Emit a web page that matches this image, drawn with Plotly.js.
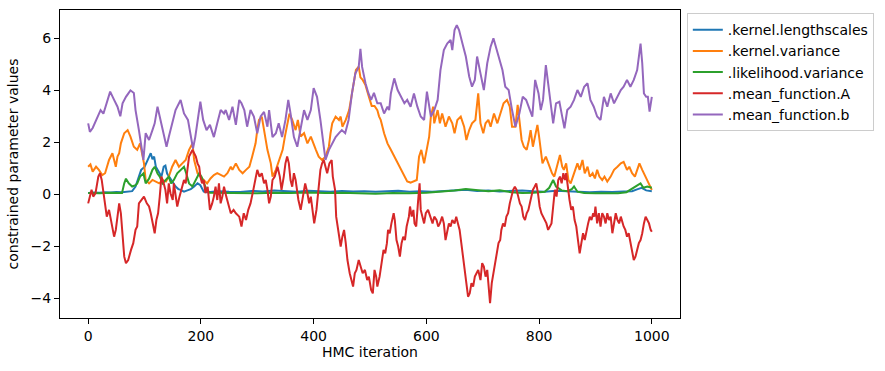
<!DOCTYPE html>
<html><head><meta charset="utf-8">
<script src="https://cdn.plot.ly/plotly-3.0.1.min.js"></script>
<style>html,body{margin:0;padding:0;background:#fff}#c{width:885px;height:371px}</style>
</head><body><div id="c"></div>
<script>
const seriesNames = [".kernel.lengthscales", ".kernel.variance", ".likelihood.variance", ".mean_function.A", ".mean_function.b"];
const seriesColors = ["#1f77b4", "#ff7f0e", "#2ca02c", "#d62728", "#9467bd"];
const xTicks = [0, 200, 400, 600, 800, 1000];
const yTicks = [-4, -2, 0, 2, 4, 6];

const lengthscalesIter = [0,10,20,30,40,50,60,70,78,84,90,94,100,105,111,114,117,120,126,130,134,137,140,143,149,155,160,164,170,176,182,188,194,199,205,212,230,250,270,290,310,330,350,370,390,410,430,450,470,490,510,530,550,570,590,610,630,650,670,690,710,730,750,770,790,810,830,850,870,890,910,930,950,965,975,982,990,1000];
const lengthscalesVal = [0.05,0.07,0.06,0.08,0.07,0.09,0.08,0.1,0.12,0.3,0.7,0.94,1.05,1.3,1.58,1.35,1.45,1.06,0.8,0.68,1.06,1.1,0.8,0.68,0.5,0.3,0.2,0.17,0.1,0.15,0.2,0.3,0.42,0.35,0.1,0.08,0.12,0.1,0.09,0.13,0.11,0.15,0.12,0.1,0.14,0.12,0.1,0.13,0.11,0.12,0.1,0.12,0.14,0.1,0.12,0.1,0.13,0.15,0.17,0.13,0.15,0.11,0.13,0.15,0.12,0.1,0.14,0.12,0.1,0.08,0.1,0.09,0.11,0.12,0.2,0.25,0.15,0.12];

const kernelVarIter = [0,4,8,14,19,25,30,34,37,43,46,49,52,55,58,64,70,75,81,87,92,96,99,102,108,114,120,126,132,138,143,149,155,161,167,173,179,182,185,188,194,199,205,211,217,223,229,235,241,247,253,256,262,268,274,280,286,291,297,300,303,308,312,315,318,324,327,333,339,345,349,353,357,362,368,372,377,383,389,395,399,404,409,415,421,427,430,433,439,445,448,451,457,463,467,471,475,480,483,487,492,498,503,508,513,516,519,525,531,537,543,549,555,561,566,572,578,583,587,591,596,601,605,608,612,614,620,624,628,634,640,646,650,655,661,667,671,676,681,687,692,696,701,705,710,714,720,726,732,737,743,748,752,758,762,766,769,773,778,782,785,789,793,797,800,803,806,812,818,823,827,830,834,837,841,844,848,852,856,862,868,872,877,881,886,890,895,899,903,907,912,916,921,927,933,939,945,950,956,960,965,970,974,978,983,989,994,998,1000];
const kernelVarVal = [1.06,1.15,0.87,1.06,0.94,0.74,0.81,1.06,1.32,1.58,1.32,1.06,1.45,1.58,1.96,2.35,2.47,2.22,1.83,1.71,1.96,1.58,1.19,0.55,0.42,0.55,0.49,0.42,0.55,0.49,0.68,1.06,1.32,1.06,1.19,1.32,1.71,1.83,1.96,1.32,0.81,0.68,0.55,0.42,0.61,0.74,0.81,0.74,0.68,0.81,1.06,0.94,1.19,0.94,0.81,0.94,1.06,1.45,1.96,2.47,2.86,2.99,2.47,2.22,1.71,1.19,0.68,0.94,1.32,1.71,2.22,2.6,3.1,2.86,2.47,2.86,2.22,2.35,1.96,2.22,1.96,1.71,1.45,1.32,1.45,1.83,2.35,2.73,2.99,2.86,2.99,2.6,2.86,3.24,3.75,4.27,4.78,4.91,4.5,4.4,4.2,3.75,3.4,3.4,3.24,3.0,2.86,2.35,1.96,1.71,1.45,1.19,0.94,0.68,0.49,0.45,0.5,0.55,1.45,1.71,1.19,1.83,2.22,2.99,3.37,2.73,3.24,2.73,3.11,2.6,2.99,2.73,2.35,2.86,2.99,2.6,2.09,2.47,2.73,2.86,3.88,2.73,2.35,2.73,2.86,2.6,3.11,2.73,3.11,3.5,3.63,3.37,2.6,2.6,3.44,2.73,2.09,1.83,1.71,2.09,2.47,1.83,2.22,2.67,2.22,1.58,1.19,1.45,1.06,0.81,0.68,0.94,1.19,1.51,1.06,0.94,1.19,0.55,0.42,0.81,1.19,0.94,1.32,0.81,1.06,0.68,0.81,0.61,0.94,0.68,0.55,0.68,0.49,0.68,0.94,1.06,1.19,1.25,0.94,1.06,0.81,0.68,0.94,1.19,0.94,0.68,0.42,0.29,0.17];

const likelihoodIter = [0,20,40,60,64,67,72,78,84,87,92,98,102,108,114,118,123,127,132,137,143,147,152,158,164,170,174,179,185,191,197,201,205,210,216,240,270,300,330,360,390,420,450,480,510,540,570,600,630,650,670,690,710,730,750,770,790,810,818,825,830,840,850,858,862,868,880,900,920,940,955,965,975,980,985,992,1000];
const likelihoodVal = [0.05,0.04,0.06,0.05,0.42,0.6,0.42,0.3,0.35,0.42,0.68,0.8,0.42,0.6,0.94,1.06,0.8,0.68,0.42,0.55,0.68,0.42,0.55,0.81,0.94,1.06,0.8,0.42,0.3,0.55,0.81,0.68,0.42,0.17,0.06,0.05,0.06,0.04,0.06,0.05,0.07,0.05,0.06,0.04,0.02,0.05,0.04,0.06,0.1,0.15,0.2,0.15,0.12,0.15,0.08,0.05,0.06,0.1,0.25,0.55,0.3,0.15,0.12,0.2,0.3,0.1,0.05,0.04,0.05,0.04,0.08,0.2,0.35,0.42,0.25,0.3,0.25];

const meanAIter = [0,3,6,9,13,18,21,24,27,30,33,37,40,43,46,49,52,55,58,61,64,67,71,76,80,84,87,90,94,99,104,108,111,115,118,121,124,127,130,134,137,140,143,146,150,152,155,158,162,165,170,173,176,179,182,185,188,191,194,197,199,202,205,208,212,216,220,223,226,229,232,235,238,241,245,250,253,258,262,268,272,276,280,284,288,293,296,300,304,308,312,315,318,321,324,327,331,336,340,343,347,350,353,356,359,362,365,368,373,377,381,385,389,392,395,398,401,405,408,412,415,418,421,424,428,432,434,438,440,444,448,451,454,457,460,464,467,470,473,476,480,483,487,491,495,498,502,505,508,511,513,517,520,524,527,530,532,535,538,542,544,547,550,553,556,559,562,565,569,571,574,577,579,582,585,588,590,593,596,599,603,607,611,614,618,621,624,628,631,634,637,640,643,646,650,653,656,659,662,665,668,671,674,677,680,683,686,689,692,696,699,702,705,708,711,713,716,719,722,725,728,731,733,736,739,742,745,748,751,754,757,760,763,766,769,772,775,778,781,784,786,789,792,795,798,801,804,807,810,813,816,819,822,825,828,831,834,837,840,843,846,848,851,854,857,860,863,866,869,872,875,878,881,884,887,890,893,896,898,900,903,906,909,912,915,918,921,924,927,930,933,936,939,942,945,948,950,953,956,959,962,965,968,971,974,977,980,983,986,989,992,995,998,1000];
const meanAVal = [-0.35,-0.1,0.17,-0.09,0.04,0.68,0.81,0.55,0.04,-0.47,-0.86,-0.6,-0.99,-1.37,-1.63,-1.37,-0.86,-0.35,-0.73,-1.63,-2.4,-2.65,-2.53,-2.14,-1.88,-1.37,-1.24,-0.35,-0.22,-0.09,-0.35,-0.47,-0.73,-1.12,-1.5,-0.99,-0.73,-0.09,0.68,0.42,0.17,-0.35,0.42,0.04,-0.22,0.42,-0.09,-0.47,-0.09,0.17,0.55,0.42,1.06,1.45,1.58,1.71,1.58,1.45,1.19,1.06,0.68,0.42,0.55,0.04,0.29,-0.6,-0.35,-0.09,0.29,-0.22,0.42,-0.35,-0.09,0.29,-0.09,-0.47,-0.73,-0.6,-0.73,-0.86,-1.24,-0.73,-0.99,-0.6,-0.35,0.17,0.55,0.94,0.68,0.81,0.42,0.55,0.17,-0.35,-0.09,0.55,0.68,1.06,0.68,0.17,0.68,1.19,1.45,1.19,0.55,0.29,0.81,0.55,-0.22,-0.6,-0.09,0.42,0.04,-0.35,-0.09,-0.6,-1.12,-0.6,0.17,0.94,1.19,1.32,1.06,0.81,1.19,1.32,0.68,0.17,-0.86,-1.37,-2.01,-1.63,-1.37,-1.88,-2.53,-3.04,-3.3,-3.55,-3.04,-2.91,-2.53,-2.78,-3.04,-2.91,-3.3,-3.17,-3.68,-3.81,-2.91,-3.17,-3.55,-3.17,-2.65,-2.14,-2.27,-1.88,-1.37,-1.5,-1.12,-0.73,-0.99,-1.76,-2.01,-2.4,-1.88,-1.63,-1.76,-1.24,-0.86,-0.47,-0.86,-0.6,-1.12,-1.24,-0.35,0.42,-0.6,-0.86,-1.12,-0.73,-0.6,-0.86,-1.12,-0.86,-0.99,-1.24,-1.12,-0.86,-1.12,-1.76,-1.37,-1.12,-1.24,-0.99,-1.12,-0.86,-1.12,-1.37,-1.88,-2.4,-3.04,-3.55,-3.94,-3.81,-3.42,-3.55,-3.17,-3.04,-2.91,-3.3,-2.65,-2.78,-3.17,-2.91,-3.55,-4.19,-3.42,-3.04,-2.53,-2.27,-1.88,-1.76,-1.37,-1.12,-1.24,-0.86,-0.73,-0.35,-0.09,0.17,0.29,0.17,-0.09,-0.35,-0.47,-0.86,-0.99,-0.73,-0.6,-0.35,-0.09,0.17,0.29,0.42,0.04,-0.47,-0.73,-0.86,-0.99,-1.12,-1.37,-1.24,-1.12,-0.47,0.17,-0.09,0.55,0.68,0.42,0.81,0.55,0.81,0.17,-0.22,-0.6,-0.47,-0.99,-1.24,-1.76,-2.27,-1.88,-1.5,-1.76,-1.37,-1.12,-0.86,-0.99,-0.73,-0.86,-0.47,-1.12,-0.73,-1.24,-0.73,-0.86,-1.12,-0.73,-0.99,-0.86,-1.5,-1.12,-0.73,-0.99,-1.12,-0.86,-1.12,-1.24,-1.37,-1.63,-1.5,-1.88,-2.27,-2.53,-2.4,-2.14,-1.88,-1.76,-1.5,-1.12,-0.86,-0.99,-1.12,-1.37,-1.44];

const meanBIter = [0,3,8,14,22,27,33,39,46,52,57,61,67,75,81,84,90,94,98,102,108,114,118,123,127,132,135,139,143,149,155,164,170,177,182,186,190,195,199,204,210,216,223,229,235,241,244,250,256,262,268,272,277,282,288,294,300,306,312,318,321,327,333,338,344,350,355,359,365,371,377,383,389,395,400,406,412,418,421,427,433,439,445,450,456,462,468,474,480,483,486,492,497,502,507,513,519,525,531,534,537,543,549,555,561,566,572,578,584,590,596,601,608,614,620,625,631,637,643,646,650,654,658,664,670,676,681,686,690,696,702,708,714,719,723,729,735,740,746,752,758,765,771,777,782,788,793,799,803,807,812,817,821,825,830,836,841,845,850,856,862,868,874,880,886,891,897,903,909,915,921,927,933,939,945,950,956,962,968,974,980,983,986,990,993,996,1000];
const meanBVal = [2.73,2.4,2.55,2.85,3.24,3.1,3.55,3.95,3.63,3.37,3.0,3.5,3.75,4.0,3.9,3.24,2.47,1.83,1.32,2.35,2.09,2.47,2.73,3.37,3.0,2.47,2.2,1.83,2.2,2.73,3.24,3.63,3.11,2.86,2.2,1.76,2.2,2.86,3.56,2.86,2.47,2.67,2.2,2.73,3.24,3.11,3.24,2.86,3.37,2.67,3.63,3.5,3.24,2.6,3.24,2.99,2.35,3.0,3.17,2.6,3.24,2.2,2.35,2.73,2.2,2.86,3.63,3.11,2.2,1.83,2.47,3.24,2.86,3.24,4.08,3.75,2.86,1.7,1.32,1.7,1.96,2.2,2.35,2.47,2.35,2.86,3.88,4.65,4.9,5.6,4.9,4.27,3.9,3.63,3.9,3.5,3.5,3.11,3.37,3.24,3.88,4.46,4.01,3.75,3.5,3.63,3.37,3.88,3.37,2.99,2.86,3.95,2.99,3.24,3.63,4.78,5.55,5.8,5.94,5.55,6.32,6.51,6.32,5.8,5.3,4.53,4.14,4.4,5.3,4.65,4.01,5.04,5.68,6.0,5.68,5.3,4.78,4.14,4.01,3.24,2.6,3.11,3.75,3.63,3.37,2.99,4.4,3.88,3.24,3.63,4.97,4.01,3.24,2.73,3.5,3.56,2.99,2.54,3.24,3.37,3.63,4.01,3.75,4.14,4.27,3.63,3.37,2.99,2.86,3.75,3.37,3.88,3.5,3.75,4.01,4.14,4.4,4.14,4.4,4.78,5.8,5.04,3.88,3.75,3.75,3.18,3.75];

const seriesIters = [lengthscalesIter, kernelVarIter, likelihoodIter, meanAIter, meanBIter];
const seriesVals = [lengthscalesVal, kernelVarVal, likelihoodVal, meanAVal, meanBVal];

const traces = seriesNames.map((n, i) => ({
  type: 'scatter', mode: 'lines', name: n,
  x: seriesIters[i], y: seriesVals[i],
  line: {color: seriesColors[i], width: 2}
}));

const fnt = {family: 'DejaVu Sans', size: 14, color: '#000'};
const axisBase = {
  showline: true, mirror: true, linecolor: '#000', linewidth: 1,
  ticks: 'outside', ticklen: 5, tickwidth: 1, tickcolor: '#000',
  showgrid: false, zeroline: false, tickfont: fnt
};
const layout = {
  width: 885, height: 371,
  margin: {l: 60, r: 205, t: 10, b: 53},
  paper_bgcolor: '#fff', plot_bgcolor: '#fff',
  font: fnt,
  showlegend: true,
  legend: {x: 1.011, y: 0.99, xanchor: 'left', yanchor: 'top',
    bordercolor: '#cccccc', borderwidth: 1, font: fnt, bgcolor: '#fff'},
  xaxis: Object.assign({}, axisBase, {range: [-50, 1050], tickvals: xTicks,
    title: {text: 'HMC iteration', font: fnt, standoff: 2}}),
  yaxis: Object.assign({}, axisBase, {range: [-4.76, 7.09], tickvals: yTicks,
    title: {text: 'constrained parameter values', font: fnt, standoff: 8}})
};
Plotly.newPlot('c', traces, layout, {staticPlot: true, displayModeBar: false});
</script></body></html>
